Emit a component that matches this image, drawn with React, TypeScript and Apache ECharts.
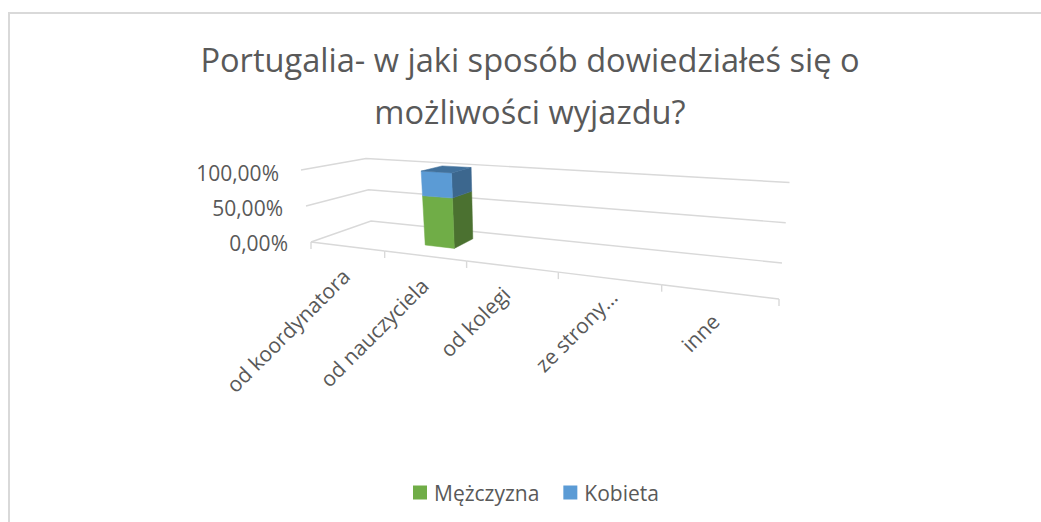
import React, { useEffect, useRef } from "react";
import * as echarts from "echarts";

const titleLines = ["Portugalia- w jaki sposób dowiedziałeś się o", "możliwości wyjazdu?"];
const categories = ["od koordynatora", "od nauczyciela", "od kolegi", "ze strony…", "inne"];
const men = [0, 0.6667, 0, 0, 0];
const women = [0, 0.3333, 0, 0, 0];
const yTicks = [0, 0.5, 1];

// Perspective plot box: floor corners [x, y] (front-left, front-right, back-right, back-left)
const floorBox = [[311, 242], [779, 299], [782, 263], [371, 221]];
// Screen vector of a 100% tall vertical at the same corners
const liftBox = [[-10, -72], [9, -93], [7.5, -80.5], [-5, -62.5]];
const BAR_U = 0.37; // share of a category band
const BAR_SHIFT = -0.035; // of a category band
const BAR_D0 = 0.33;
const BAR_D1 = 0.72;
const GRID = { left: 300, top: 172.5, width: 470, height: 70 };
const FONT = "'Open Sans', sans-serif";
const LABEL_DX = [-1, 0, -5, 5, -3];
const LABEL_DY = [26, 26, 24, 15, 26];

function homography(c: number[][]) {
  const [[x0, y0], [x1, y1], [x2, y2], [x3, y3]] = c;
  const dx1 = x1 - x2, dx2 = x3 - x2, sx = x0 - x1 + x2 - x3;
  const dy1 = y1 - y2, dy2 = y3 - y2, sy = y0 - y1 + y2 - y3;
  const den = dx1 * dy2 - dx2 * dy1;
  const g = (sx * dy2 - dx2 * sy) / den;
  const h = (dx1 * sy - sx * dy1) / den;
  const a = x1 - x0 + g * x1, b = x3 - x0 + h * x3;
  const d = y1 - y0 + g * y1, e = y3 - y0 + h * y3;
  return (u: number, v: number) => {
    const w = g * u + h * v + 1;
    return [(a * u + b * v + x0) / w, (d * u + e * v + y0) / w];
  };
}
const hFloor = homography(floorBox);
function lift(u: number, d: number, k: number) {
  const f = liftBox[0][k] + (liftBox[1][k] - liftBox[0][k]) * u;
  const b = liftBox[3][k] + (liftBox[2][k] - liftBox[3][k]) * u;
  return f + (b - f) * d;
}
function project(u: number, value: number, depth: number) {
  const p = hFloor(u, depth);
  return [p[0] + lift(u, depth, 0) * value, p[1] + lift(u, depth, 1) * value];
}

// converts a data point, through the cartesian scales, to fractions of the grid
function toFractions(api: any, params: any, cat: number, value: number) {
  const r = params.coordSys;
  const pt = api.coord([cat, value]);
  return { u: (pt[0] - r.x) / r.width, v: (r.y + r.height - pt[1]) / r.height, band: api.size([1, 0])[0] / r.width };
}

function poly(points: number[][], fill: string) {
  return { type: "polygon", shape: { points }, style: { fill, stroke: fill, lineWidth: 0.5 } };
}

function barRenderer(front: string, side: string, top: string) {
  return (params: any, api: any) => {
    const cat = api.value(0);
    const from = api.value(1);
    const to = api.value(2);
    if (to <= from) return { type: "group", children: [] };
    const a = toFractions(api, params, cat, from);
    const b = toFractions(api, params, cat, to);
    const mid = a.u + a.band * BAR_SHIFT;
    const u0 = mid - (a.band * BAR_U) / 2;
    const u1 = mid + (a.band * BAR_U) / 2;
    const children: any[] = [
      poly([project(u1, a.v, BAR_D0), project(u1, a.v, BAR_D1), project(u1, b.v, BAR_D1), project(u1, b.v, BAR_D0)], side),
      poly([project(u0, a.v, BAR_D0), project(u1, a.v, BAR_D0), project(u1, b.v, BAR_D0), project(u0, b.v, BAR_D0)], front),
    ];
    if (to >= 0.999) {
      children.push(poly([project(u0, b.v, BAR_D0), project(u1, b.v, BAR_D0), project(u1, b.v, BAR_D1), project(u0, b.v, BAR_D1)], top));
    }
    return { type: "group", children };
  };
}

const LINE = { stroke: "#D9D9D9", lineWidth: 1.4, fill: "none" };

function App() {
  const ref = useRef<HTMLDivElement>(null);
  useEffect(() => {
    const chart = echarts.init(ref.current!, null, { renderer: "svg" });
    const stack = (vals: number[], base: number[]) => vals.map((v, i) => [i, base[i], base[i] + v]);
    const tickStyle = (right: number) => ({ fontSize: 21, color: "#595959", fontFamily: FONT, padding: [0, right, 0, 0] });
    chart.setOption({
      animation: false,
      backgroundColor: "#fff",
      textStyle: { fontFamily: FONT },
      graphic: [
        {
          type: "polyline",
          silent: true,
          shape: { points: [[9, 522], [9, 13], [1041, 13]] },
          style: { stroke: "#D9D9D9", lineWidth: 2, fill: "none" },
        },
      ],
      title: {
        text: titleLines.join("\n"),
        left: 525,
        top: 28,
        textAlign: "center",
        textStyle: { fontFamily: FONT, fontWeight: "normal", fontSize: 32.6, lineHeight: 52, color: "#595959" },
      },
      legend: {
        data: ["Mężczyzna", "Kobieta"],
        left: 408,
        top: 477,
        icon: "rect",
        itemWidth: 14,
        itemHeight: 14,
        itemGap: 24,
        selectedMode: false,
        textStyle: { fontSize: 21, color: "#595959", fontFamily: FONT, padding: [0, 0, 0, 2] },
      },
      grid: { ...GRID },
      xAxis: { type: "category", data: categories, show: false },
      yAxis: {
        type: "value",
        min: 0,
        max: 1,
        interval: 0.5,
        axisLine: { show: false },
        axisTick: { show: false },
        splitLine: { show: false },
        axisLabel: {
          margin: 12,
          formatter: (v: number) => {
            const key = v === 1 ? "top" : v === 0.5 ? "mid" : "low";
            return "{" + key + "|" + (v * 100).toFixed(2).replace(".", ",") + "%}";
          },
          rich: { top: tickStyle(9), mid: tickStyle(5), low: tickStyle(0) },
        },
      },
      series: [
        {
          type: "custom",
          name: "walls",
          silent: true,
          z: 1,
          clip: false,
          data: yTicks.map((v) => [0, v]),
          encode: { x: 0, y: 1 },
          renderItem: (params: any, api: any) => {
            const { v } = toFractions(api, params, 0, api.value(1));
            return {
              type: "polyline",
              shape: { points: [project(0, v, 0), project(0, v, 1), project(1, v, 1)] },
              style: LINE,
            };
          },
        },
        {
          type: "custom",
          name: "floor",
          silent: true,
          z: 1,
          clip: false,
          data: categories.map((_, i) => [i, i]),
          encode: { x: 0, y: 1 },
          renderItem: (params: any, api: any) => {
            const i = api.value(0);
            const a = toFractions(api, params, i, 0);
            const u0 = a.u - a.band / 2;
            const u1 = a.u + a.band / 2;
            const p0 = project(u0, 0, 0);
            const p1 = project(u1, 0, 0);
            const children: any[] = [
              { type: "line", shape: { x1: p0[0], y1: p0[1], x2: p1[0], y2: p1[1] }, style: LINE },
              { type: "line", shape: { x1: p1[0], y1: p1[1], x2: p1[0], y2: p1[1] + 7 }, style: LINE },
            ];
            if (i === 0) children.push({ type: "line", shape: { x1: p0[0], y1: p0[1], x2: p0[0], y2: p0[1] + 7 }, style: LINE });
            return { type: "group", children };
          },
        },
        {
          type: "custom",
          name: "Mężczyzna",
          z: 3,
          clip: false,
          itemStyle: { color: "#70AD47" },
          data: stack(men, [0, 0, 0, 0, 0]),
          encode: { x: 0, y: [1, 2] },
          renderItem: barRenderer("#70AD47", "#4B7130", "#43682B"),
        },
        {
          type: "custom",
          name: "Kobieta",
          z: 3,
          clip: false,
          itemStyle: { color: "#5B9BD5" },
          data: stack(women, men),
          encode: { x: 0, y: [1, 2] },
          renderItem: barRenderer("#5B9BD5", "#3C678E", "#41719C"),
        },
        {
          type: "custom",
          name: "labels",
          silent: true,
          z: 4,
          clip: false,
          data: categories.map((_, i) => [i, 0]),
          encode: { x: 0, y: 1 },
          renderItem: (params: any, api: any) => {
            const i = api.value(0);
            const a = toFractions(api, params, i, 0);
            const p = project(a.u, 0, 0);
            return {
              type: "text",
              x: p[0] + LABEL_DX[i],
              y: p[1] + LABEL_DY[i],
              rotation: Math.PI / 4,
              style: {
                text: categories[i],
                align: "right",
                verticalAlign: "middle",
                fontSize: 21,
                fontFamily: FONT,
                fill: "#595959",
              },
            };
          },
        },
      ],
    });
    return () => chart.dispose();
  }, []);
  return <div ref={ref} style={{ position: "fixed", left: 0, top: 0, width: 1041, height: 522 }} />;
}

export default App;
